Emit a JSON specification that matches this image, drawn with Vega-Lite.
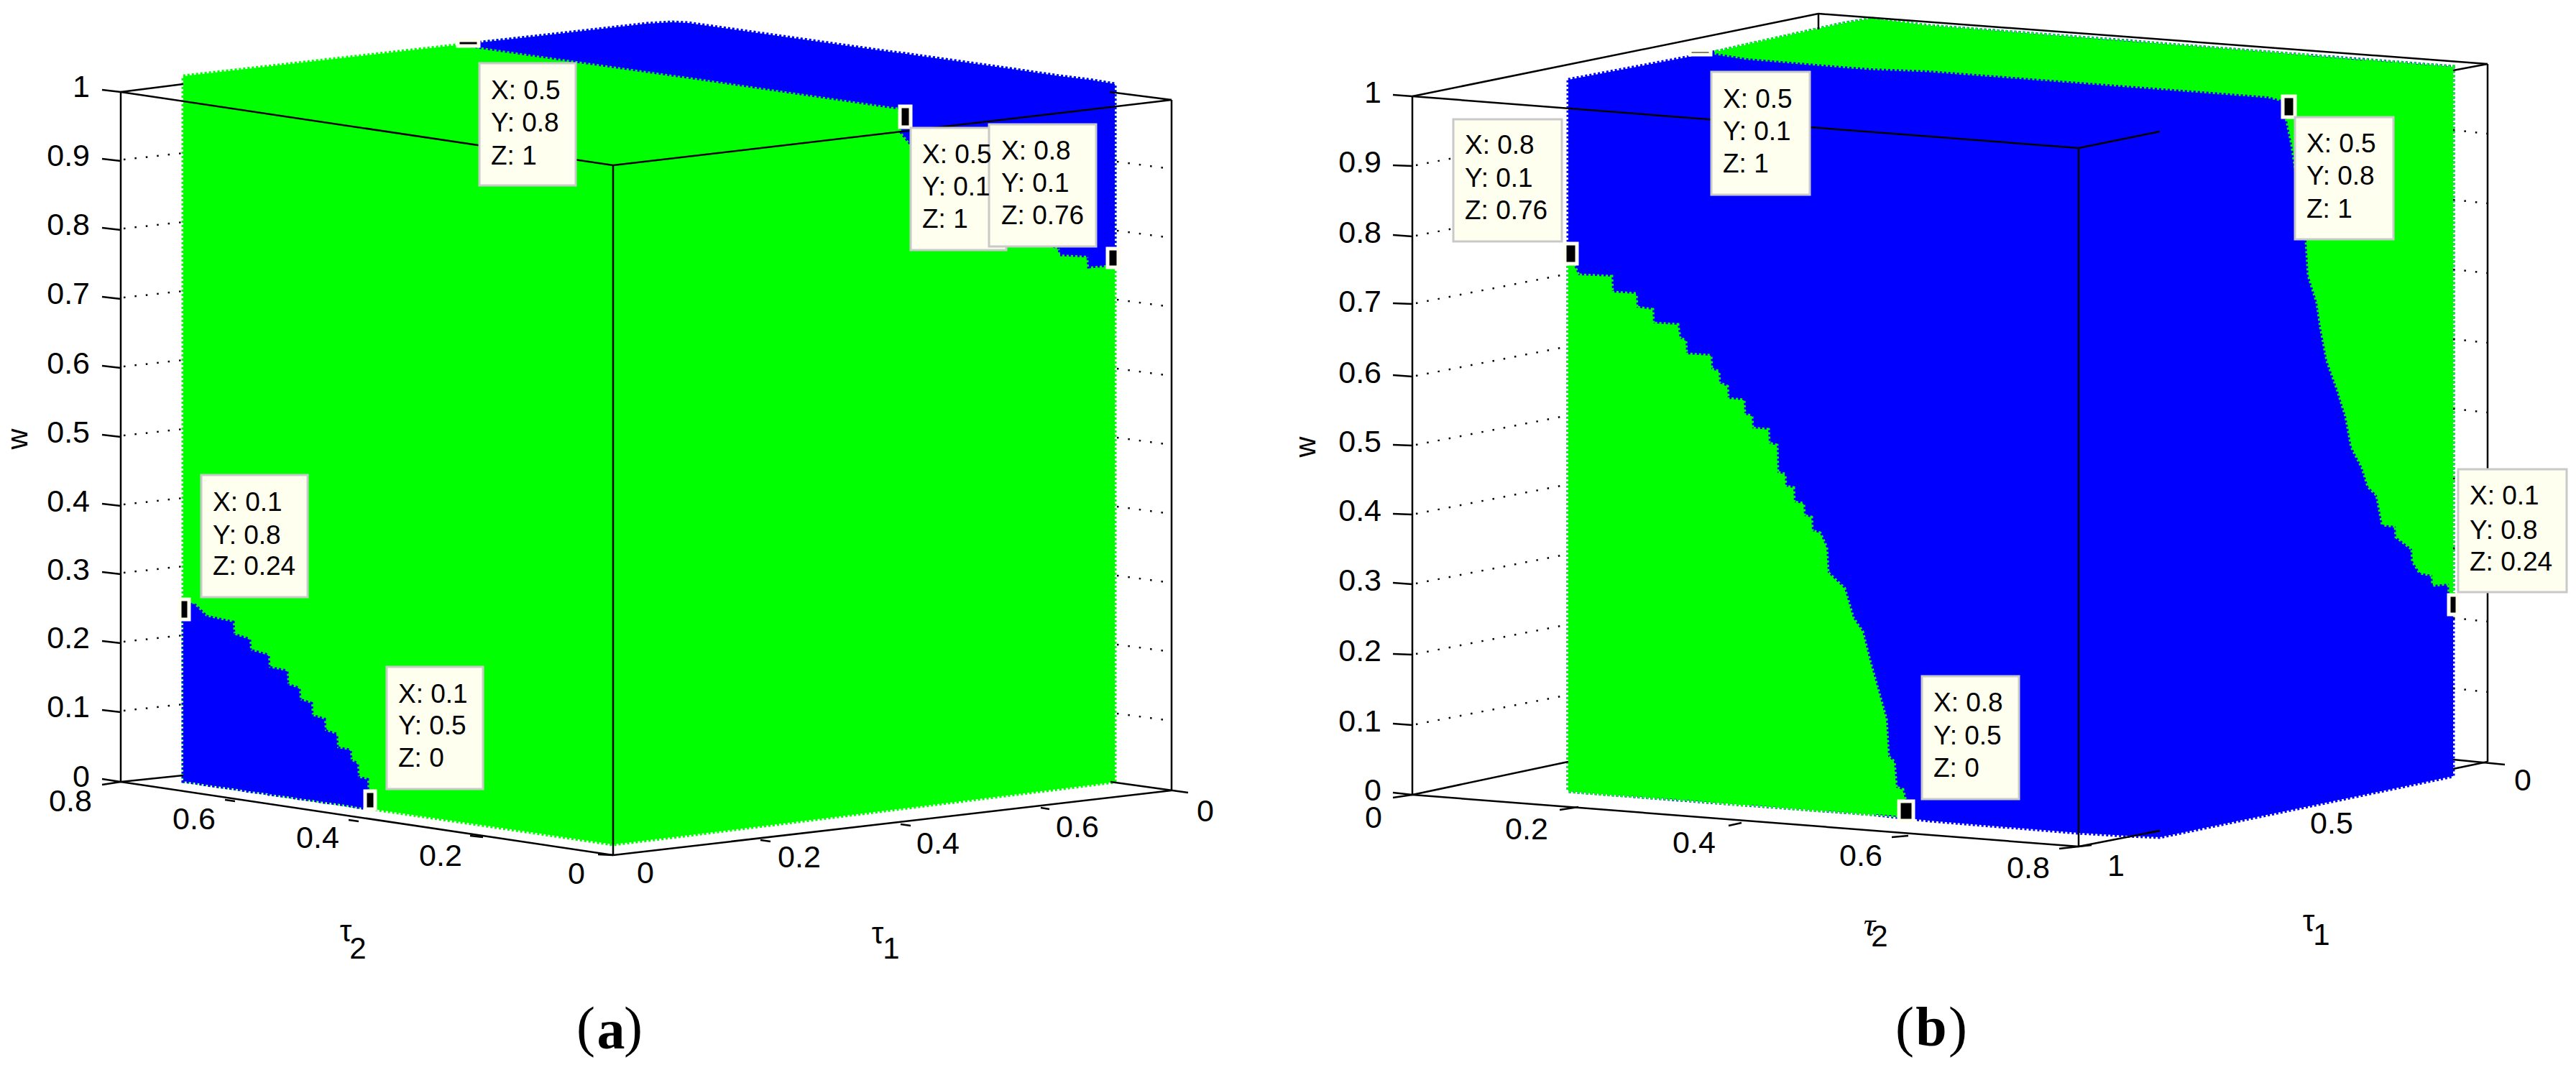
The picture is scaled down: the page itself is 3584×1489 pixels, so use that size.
{
  "$schema": "https://vega.github.io/schema/vega-lite/v6.json",
  "description": "Two views of a cube of tau1, tau2, w points split into a green and a blue region, with data tips",
  "autosize": {"type": "fit", "contains": "padding"},
  "width": 3584,
  "height": 1489,
  "padding": 0,
  "background": "white",
  "config": {"view": {"stroke": null}},
  "datasets": {
    "regions": [
      {"shape":"a-green","part":"base","cls":"green","sx":255,"sy":106,"sy2":1087},
      {"shape":"a-green","part":"base","cls":"green","sx":643,"sy":62,"sy2":1144},
      {"shape":"a-green","part":"base","cls":"green","sx":853,"sy":40,"sy2":1175},
      {"shape":"a-green","part":"base","cls":"green","sx":935,"sy":31,"sy2":1165},
      {"shape":"a-green","part":"base","cls":"green","sx":1551,"sy":117,"sy2":1088},
      {"shape":"b-blue","part":"base","cls":"blue","sx":2182,"sy":111,"sy2":1101},
      {"shape":"b-blue","part":"base","cls":"blue","sx":2388,"sy":72,"sy2":1117},
      {"shape":"b-blue","part":"base","cls":"blue","sx":2563,"sy":33,"sy2":1130},
      {"shape":"b-blue","part":"base","cls":"blue","sx":2604,"sy":26,"sy2":1133},
      {"shape":"b-blue","part":"base","cls":"blue","sx":2684,"sy":36,"sy2":1142},
      {"shape":"b-blue","part":"base","cls":"blue","sx":2892,"sy":52,"sy2":1159},
      {"shape":"b-blue","part":"base","cls":"blue","sx":2960,"sy":57,"sy2":1163},
      {"shape":"b-blue","part":"base","cls":"blue","sx":3005,"sy":61,"sy2":1165},
      {"shape":"b-blue","part":"base","cls":"blue","sx":3413,"sy":93,"sy2":1080},

      {"shape":"a-blue-top","part":"over","cls":"blue","sx":643,"sy":62,"sy2":62},
      {"shape":"a-blue-top","part":"over","cls":"blue","sx":760,"sy":49,"sy2":79},
      {"shape":"a-blue-top","part":"over","cls":"blue","sx":900,"sy":33,"sy2":99},
      {"shape":"a-blue-top","part":"over","cls":"blue","sx":935,"sy":31,"sy2":104},
      {"shape":"a-blue-top","part":"over","cls":"blue","sx":957,"sy":32,"sy2":107},
      {"shape":"a-blue-top","part":"over","cls":"blue","sx":1236,"sy":72,"sy2":148},
      {"shape":"a-blue-top","part":"over","cls":"blue","sx":1252,"sy":74,"sy2":150},
      {"shape":"a-blue-top","part":"over","cls":"blue","sx":1254,"sy":74,"sy2":184},
      {"shape":"a-blue-top","part":"over","cls":"blue","sx":1267,"sy":76,"sy2":200},
      {"shape":"a-blue-top","part":"over","cls":"blue","sx":1400,"sy":95,"sy2":320},
      {"shape":"a-blue-top","part":"over","cls":"blue","sx":1474,"sy":106,"sy2":345},
      {"shape":"a-blue-top","part":"over","cls":"blue","sx":1475,"sy":106,"sy2":354},
      {"shape":"a-blue-top","part":"over","cls":"blue","sx":1514,"sy":111,"sy2":356},
      {"shape":"a-blue-top","part":"over","cls":"blue","sx":1515,"sy":111,"sy2":371},
      {"shape":"a-blue-top","part":"over","cls":"blue","sx":1551,"sy":117,"sy2":368},

      {"shape":"a-blue-low","part":"over","cls":"blue","sx":255,"sy":848,"sy2":1087},
      {"shape":"a-blue-low","part":"over","cls":"blue","sx":270,"sy":840,"sy2":1089},
      {"shape":"a-blue-low","part":"over","cls":"blue","sx":271,"sy":842,"sy2":1089},
      {"shape":"a-blue-low","part":"over","cls":"blue","sx":287,"sy":858,"sy2":1092},
      {"shape":"a-blue-low","part":"over","cls":"blue","sx":324,"sy":866,"sy2":1097},
      {"shape":"a-blue-low","part":"over","cls":"blue","sx":325,"sy":883,"sy2":1097},
      {"shape":"a-blue-low","part":"over","cls":"blue","sx":347,"sy":890,"sy2":1101},
      {"shape":"a-blue-low","part":"over","cls":"blue","sx":348,"sy":905,"sy2":1101},
      {"shape":"a-blue-low","part":"over","cls":"blue","sx":373,"sy":912,"sy2":1104},
      {"shape":"a-blue-low","part":"over","cls":"blue","sx":374,"sy":929,"sy2":1105},
      {"shape":"a-blue-low","part":"over","cls":"blue","sx":399,"sy":934,"sy2":1108},
      {"shape":"a-blue-low","part":"over","cls":"blue","sx":400,"sy":953,"sy2":1108},
      {"shape":"a-blue-low","part":"over","cls":"blue","sx":416,"sy":958,"sy2":1111},
      {"shape":"a-blue-low","part":"over","cls":"blue","sx":417,"sy":974,"sy2":1111},
      {"shape":"a-blue-low","part":"over","cls":"blue","sx":433,"sy":979,"sy2":1113},
      {"shape":"a-blue-low","part":"over","cls":"blue","sx":434,"sy":996,"sy2":1113},
      {"shape":"a-blue-low","part":"over","cls":"blue","sx":451,"sy":1001,"sy2":1116},
      {"shape":"a-blue-low","part":"over","cls":"blue","sx":452,"sy":1017,"sy2":1116},
      {"shape":"a-blue-low","part":"over","cls":"blue","sx":468,"sy":1022,"sy2":1118},
      {"shape":"a-blue-low","part":"over","cls":"blue","sx":469,"sy":1041,"sy2":1118},
      {"shape":"a-blue-low","part":"over","cls":"blue","sx":487,"sy":1044,"sy2":1121},
      {"shape":"a-blue-low","part":"over","cls":"blue","sx":488,"sy":1058,"sy2":1121},
      {"shape":"a-blue-low","part":"over","cls":"blue","sx":497,"sy":1063,"sy2":1123},
      {"shape":"a-blue-low","part":"over","cls":"blue","sx":498,"sy":1082,"sy2":1123},
      {"shape":"a-blue-low","part":"over","cls":"blue","sx":511,"sy":1085,"sy2":1125},
      {"shape":"a-blue-low","part":"over","cls":"blue","sx":512,"sy":1124,"sy2":1125},

      {"shape":"b-green-top","part":"over","cls":"green","sx":2388,"sy":72,"sy2":74},
      {"shape":"b-green-top","part":"over","cls":"green","sx":2431,"sy":62,"sy2":81},
      {"shape":"b-green-top","part":"over","cls":"green","sx":2563,"sy":33,"sy2":92},
      {"shape":"b-green-top","part":"over","cls":"green","sx":2604,"sy":26,"sy2":95},
      {"shape":"b-green-top","part":"over","cls":"green","sx":2684,"sy":36,"sy2":98},
      {"shape":"b-green-top","part":"over","cls":"green","sx":3155,"sy":73,"sy2":134},
      {"shape":"b-green-top","part":"over","cls":"green","sx":3178,"sy":75,"sy2":140},
      {"shape":"b-green-top","part":"over","cls":"green","sx":3181,"sy":75,"sy2":163},
      {"shape":"b-green-top","part":"over","cls":"green","sx":3189,"sy":76,"sy2":201},
      {"shape":"b-green-top","part":"over","cls":"green","sx":3209,"sy":77,"sy2":335},
      {"shape":"b-green-top","part":"over","cls":"green","sx":3212,"sy":78,"sy2":383},
      {"shape":"b-green-top","part":"over","cls":"green","sx":3224,"sy":79,"sy2":421},
      {"shape":"b-green-top","part":"over","cls":"green","sx":3229,"sy":79,"sy2":455},
      {"shape":"b-green-top","part":"over","cls":"green","sx":3238,"sy":80,"sy2":502},
      {"shape":"b-green-top","part":"over","cls":"green","sx":3252,"sy":81,"sy2":541},
      {"shape":"b-green-top","part":"over","cls":"green","sx":3264,"sy":82,"sy2":579},
      {"shape":"b-green-top","part":"over","cls":"green","sx":3272,"sy":83,"sy2":622},
      {"shape":"b-green-top","part":"over","cls":"green","sx":3287,"sy":84,"sy2":651},
      {"shape":"b-green-top","part":"over","cls":"green","sx":3295,"sy":84,"sy2":677},
      {"shape":"b-green-top","part":"over","cls":"green","sx":3307,"sy":85,"sy2":689},
      {"shape":"b-green-top","part":"over","cls":"green","sx":3315,"sy":86,"sy2":730},
      {"shape":"b-green-top","part":"over","cls":"green","sx":3333,"sy":87,"sy2":732},
      {"shape":"b-green-top","part":"over","cls":"green","sx":3334,"sy":87,"sy2":747},
      {"shape":"b-green-top","part":"over","cls":"green","sx":3356,"sy":89,"sy2":764},
      {"shape":"b-green-top","part":"over","cls":"green","sx":3357,"sy":89,"sy2":781},
      {"shape":"b-green-top","part":"over","cls":"green","sx":3367,"sy":90,"sy2":797},
      {"shape":"b-green-top","part":"over","cls":"green","sx":3384,"sy":91,"sy2":800},
      {"shape":"b-green-top","part":"over","cls":"green","sx":3385,"sy":91,"sy2":814},
      {"shape":"b-green-top","part":"over","cls":"green","sx":3407,"sy":93,"sy2":812},
      {"shape":"b-green-top","part":"over","cls":"green","sx":3408,"sy":93,"sy2":826},
      {"shape":"b-green-top","part":"over","cls":"green","sx":3413,"sy":93,"sy2":835},

      {"shape":"b-green-low","part":"over","cls":"green","sx":2182,"sy":352,"sy2":1101},
      {"shape":"b-green-low","part":"over","cls":"green","sx":2196,"sy":383,"sy2":1102},
      {"shape":"b-green-low","part":"over","cls":"green","sx":2242,"sy":385,"sy2":1106},
      {"shape":"b-green-low","part":"over","cls":"green","sx":2243,"sy":407,"sy2":1106},
      {"shape":"b-green-low","part":"over","cls":"green","sx":2276,"sy":409,"sy2":1108},
      {"shape":"b-green-low","part":"over","cls":"green","sx":2277,"sy":428,"sy2":1108},
      {"shape":"b-green-low","part":"over","cls":"green","sx":2299,"sy":431,"sy2":1110},
      {"shape":"b-green-low","part":"over","cls":"green","sx":2300,"sy":450,"sy2":1110},
      {"shape":"b-green-low","part":"over","cls":"green","sx":2334,"sy":452,"sy2":1112},
      {"shape":"b-green-low","part":"over","cls":"green","sx":2337,"sy":471,"sy2":1113},
      {"shape":"b-green-low","part":"over","cls":"green","sx":2345,"sy":474,"sy2":1113},
      {"shape":"b-green-low","part":"over","cls":"green","sx":2346,"sy":493,"sy2":1113},
      {"shape":"b-green-low","part":"over","cls":"green","sx":2380,"sy":495,"sy2":1116},
      {"shape":"b-green-low","part":"over","cls":"green","sx":2381,"sy":514,"sy2":1116},
      {"shape":"b-green-low","part":"over","cls":"green","sx":2391,"sy":517,"sy2":1117},
      {"shape":"b-green-low","part":"over","cls":"green","sx":2392,"sy":533,"sy2":1117},
      {"shape":"b-green-low","part":"over","cls":"green","sx":2403,"sy":538,"sy2":1118},
      {"shape":"b-green-low","part":"over","cls":"green","sx":2404,"sy":555,"sy2":1118},
      {"shape":"b-green-low","part":"over","cls":"green","sx":2426,"sy":557,"sy2":1120},
      {"shape":"b-green-low","part":"over","cls":"green","sx":2427,"sy":577,"sy2":1120},
      {"shape":"b-green-low","part":"over","cls":"green","sx":2437,"sy":579,"sy2":1120},
      {"shape":"b-green-low","part":"over","cls":"green","sx":2438,"sy":596,"sy2":1120},
      {"shape":"b-green-low","part":"over","cls":"green","sx":2460,"sy":598,"sy2":1122},
      {"shape":"b-green-low","part":"over","cls":"green","sx":2461,"sy":617,"sy2":1122},
      {"shape":"b-green-low","part":"over","cls":"green","sx":2472,"sy":620,"sy2":1123},
      {"shape":"b-green-low","part":"over","cls":"green","sx":2473,"sy":658,"sy2":1123},
      {"shape":"b-green-low","part":"over","cls":"green","sx":2483,"sy":660,"sy2":1124},
      {"shape":"b-green-low","part":"over","cls":"green","sx":2484,"sy":677,"sy2":1124},
      {"shape":"b-green-low","part":"over","cls":"green","sx":2495,"sy":679,"sy2":1125},
      {"shape":"b-green-low","part":"over","cls":"green","sx":2496,"sy":699,"sy2":1125},
      {"shape":"b-green-low","part":"over","cls":"green","sx":2509,"sy":701,"sy2":1126},
      {"shape":"b-green-low","part":"over","cls":"green","sx":2510,"sy":718,"sy2":1126},
      {"shape":"b-green-low","part":"over","cls":"green","sx":2520,"sy":720,"sy2":1127},
      {"shape":"b-green-low","part":"over","cls":"green","sx":2521,"sy":739,"sy2":1127},
      {"shape":"b-green-low","part":"over","cls":"green","sx":2532,"sy":742,"sy2":1128},
      {"shape":"b-green-low","part":"over","cls":"green","sx":2541,"sy":762,"sy2":1128},
      {"shape":"b-green-low","part":"over","cls":"green","sx":2543,"sy":797,"sy2":1128},
      {"shape":"b-green-low","part":"over","cls":"green","sx":2566,"sy":819,"sy2":1130},
      {"shape":"b-green-low","part":"over","cls":"green","sx":2578,"sy":860,"sy2":1131},
      {"shape":"b-green-low","part":"over","cls":"green","sx":2591,"sy":879,"sy2":1132},
      {"shape":"b-green-low","part":"over","cls":"green","sx":2601,"sy":919,"sy2":1133},
      {"shape":"b-green-low","part":"over","cls":"green","sx":2612,"sy":958,"sy2":1133},
      {"shape":"b-green-low","part":"over","cls":"green","sx":2624,"sy":1001,"sy2":1134},
      {"shape":"b-green-low","part":"over","cls":"green","sx":2627,"sy":1053,"sy2":1134},
      {"shape":"b-green-low","part":"over","cls":"green","sx":2635,"sy":1060,"sy2":1135},
      {"shape":"b-green-low","part":"over","cls":"green","sx":2638,"sy":1096,"sy2":1135},
      {"shape":"b-green-low","part":"over","cls":"green","sx":2647,"sy":1099,"sy2":1136},
      {"shape":"b-green-low","part":"over","cls":"green","sx":2655,"sy":1130,"sy2":1136}
    ],
    "lines": [
      {"kind":"solid","sx":168,"sy":128,"sx2":168,"sy2":1088},
      {"kind":"solid","sx":853,"sy":230,"sx2":853,"sy2":1190},
      {"kind":"solid","sx":1630,"sy":139,"sx2":1630,"sy2":1100},
      {"kind":"solid","sx":168,"sy":128,"sx2":853,"sy2":230},
      {"kind":"solid","sx":853,"sy":230,"sx2":1630,"sy2":139},
      {"kind":"solid","sx":168,"sy":128,"sx2":255,"sy2":117},
      {"kind":"solid","sx":1544,"sy":128,"sx2":1630,"sy2":139},
      {"kind":"solid","sx":168,"sy":1088,"sx2":853,"sy2":1190},
      {"kind":"solid","sx":853,"sy":1190,"sx2":1630,"sy2":1100},
      {"kind":"solid","sx":168,"sy":1088,"sx2":255,"sy2":1079},
      {"kind":"solid","sx":1545,"sy":1088,"sx2":1653,"sy2":1103},
      {"kind":"solid","sx":142,"sy":1092,"sx2":168,"sy2":1088},
      {"kind":"solid","sx":142,"sy":125,"sx2":168,"sy2":128},
      {"kind":"solid","sx":142,"sy":221,"sx2":168,"sy2":224},
      {"kind":"solid","sx":142,"sy":317,"sx2":168,"sy2":320},
      {"kind":"solid","sx":142,"sy":413,"sx2":168,"sy2":416},
      {"kind":"solid","sx":142,"sy":509,"sx2":168,"sy2":512},
      {"kind":"solid","sx":142,"sy":605,"sx2":168,"sy2":608},
      {"kind":"solid","sx":142,"sy":701,"sx2":168,"sy2":704},
      {"kind":"solid","sx":142,"sy":796,"sx2":168,"sy2":799},
      {"kind":"solid","sx":142,"sy":892,"sx2":168,"sy2":895},
      {"kind":"solid","sx":142,"sy":988,"sx2":168,"sy2":991},
      {"kind":"solid","sx":142,"sy":1084,"sx2":168,"sy2":1088},
      {"kind":"solid","sx":313,"sy":1113,"sx2":327,"sy2":1115},
      {"kind":"solid","sx":485,"sy":1141,"sx2":499,"sy2":1143},
      {"kind":"solid","sx":654,"sy":1163,"sx2":672,"sy2":1165},
      {"kind":"solid","sx":832,"sy":1189,"sx2":853,"sy2":1190},
      {"kind":"solid","sx":1058,"sy":1169,"sx2":1072,"sy2":1171},
      {"kind":"solid","sx":1253,"sy":1147,"sx2":1267,"sy2":1149},
      {"kind":"solid","sx":1448,"sy":1124,"sx2":1460,"sy2":1126},

      {"kind":"solid","sx":1965,"sy":134,"sx2":1965,"sy2":1106},
      {"kind":"solid","sx":2892,"sy":206,"sx2":2892,"sy2":1178},
      {"kind":"solid","sx":3461,"sy":89,"sx2":3461,"sy2":1060},
      {"kind":"solid","sx":2530,"sy":19,"sx2":2530,"sy2":41},
      {"kind":"solid","sx":1965,"sy":134,"sx2":2530,"sy2":19},
      {"kind":"solid","sx":2530,"sy":19,"sx2":3461,"sy2":89},
      {"kind":"solid","sx":1965,"sy":134,"sx2":2892,"sy2":206},
      {"kind":"solid","sx":2892,"sy":206,"sx2":3005,"sy2":183},
      {"kind":"solid","sx":3413,"sy":98,"sx2":3461,"sy2":89},
      {"kind":"solid","sx":1965,"sy":1106,"sx2":2892,"sy2":1178},
      {"kind":"solid","sx":2892,"sy":1178,"sx2":3005,"sy2":1156},
      {"kind":"solid","sx":3413,"sy":1070,"sx2":3461,"sy2":1060},
      {"kind":"solid","sx":3413,"sy":1057,"sx2":3485,"sy2":1064},
      {"kind":"solid","sx":1965,"sy":1106,"sx2":2182,"sy2":1060},
      {"kind":"solid","sx":1938,"sy":1110,"sx2":1965,"sy2":1106},
      {"kind":"solid","sx":1938,"sy":132,"sx2":1965,"sy2":134},
      {"kind":"solid","sx":1938,"sy":230,"sx2":1965,"sy2":231},
      {"kind":"solid","sx":1938,"sy":327,"sx2":1965,"sy2":329},
      {"kind":"solid","sx":1938,"sy":422,"sx2":1965,"sy2":423},
      {"kind":"solid","sx":1938,"sy":522,"sx2":1965,"sy2":524},
      {"kind":"solid","sx":1938,"sy":619,"sx2":1965,"sy2":620},
      {"kind":"solid","sx":1938,"sy":715,"sx2":1965,"sy2":716},
      {"kind":"solid","sx":1938,"sy":811,"sx2":1965,"sy2":813},
      {"kind":"solid","sx":1938,"sy":910,"sx2":1965,"sy2":911},
      {"kind":"solid","sx":1938,"sy":1007,"sx2":1965,"sy2":1009},
      {"kind":"solid","sx":1938,"sy":1103,"sx2":1965,"sy2":1106},
      {"kind":"solid","sx":2170,"sy":1127,"sx2":2196,"sy2":1123},
      {"kind":"solid","sx":2405,"sy":1149,"sx2":2423,"sy2":1145},
      {"kind":"solid","sx":2632,"sy":1165,"sx2":2655,"sy2":1163},
      {"kind":"solid","sx":2865,"sy":1181,"sx2":2910,"sy2":1176},
      {"kind":"solid","sx":2988,"sy":1159,"sx2":3005,"sy2":1156},

      {"kind":"dotted","sx":172,"sy":222,"sx2":255,"sy2":213},
      {"kind":"dotted","sx":172,"sy":318,"sx2":255,"sy2":309},
      {"kind":"dotted","sx":172,"sy":414,"sx2":255,"sy2":405},
      {"kind":"dotted","sx":172,"sy":510,"sx2":255,"sy2":501},
      {"kind":"dotted","sx":172,"sy":606,"sx2":255,"sy2":597},
      {"kind":"dotted","sx":172,"sy":702,"sx2":255,"sy2":693},
      {"kind":"dotted","sx":172,"sy":797,"sx2":255,"sy2":788},
      {"kind":"dotted","sx":172,"sy":893,"sx2":255,"sy2":884},
      {"kind":"dotted","sx":172,"sy":989,"sx2":255,"sy2":980},
      {"kind":"dotted","sx":1554,"sy":225,"sx2":1630,"sy2":235},
      {"kind":"dotted","sx":1554,"sy":321,"sx2":1630,"sy2":331},
      {"kind":"dotted","sx":1554,"sy":417,"sx2":1630,"sy2":427},
      {"kind":"dotted","sx":1554,"sy":513,"sx2":1630,"sy2":523},
      {"kind":"dotted","sx":1554,"sy":609,"sx2":1630,"sy2":619},
      {"kind":"dotted","sx":1554,"sy":705,"sx2":1630,"sy2":715},
      {"kind":"dotted","sx":1554,"sy":801,"sx2":1630,"sy2":811},
      {"kind":"dotted","sx":1554,"sy":897,"sx2":1630,"sy2":907},
      {"kind":"dotted","sx":1554,"sy":993,"sx2":1630,"sy2":1003},
      {"kind":"dotted","sx":1970,"sy":230,"sx2":2182,"sy2":189},
      {"kind":"dotted","sx":1970,"sy":328,"sx2":2182,"sy2":287},
      {"kind":"dotted","sx":1970,"sy":422,"sx2":2182,"sy2":381},
      {"kind":"dotted","sx":1970,"sy":523,"sx2":2182,"sy2":482},
      {"kind":"dotted","sx":1970,"sy":619,"sx2":2182,"sy2":578},
      {"kind":"dotted","sx":1970,"sy":715,"sx2":2182,"sy2":674},
      {"kind":"dotted","sx":1970,"sy":812,"sx2":2182,"sy2":771},
      {"kind":"dotted","sx":1970,"sy":910,"sx2":2182,"sy2":869},
      {"kind":"dotted","sx":1970,"sy":1008,"sx2":2182,"sy2":967},
      {"kind":"dotted","sx":3413,"sy":181,"sx2":3461,"sy2":186},
      {"kind":"dotted","sx":3413,"sy":278,"sx2":3461,"sy2":283},
      {"kind":"dotted","sx":3413,"sy":375,"sx2":3461,"sy2":380},
      {"kind":"dotted","sx":3413,"sy":472,"sx2":3461,"sy2":477},
      {"kind":"dotted","sx":3413,"sy":569,"sx2":3461,"sy2":574},
      {"kind":"dotted","sx":3413,"sy":666,"sx2":3461,"sy2":671},
      {"kind":"dotted","sx":3413,"sy":763,"sx2":3461,"sy2":768},
      {"kind":"dotted","sx":3413,"sy":860,"sx2":3461,"sy2":865},
      {"kind":"dotted","sx":3413,"sy":958,"sx2":3461,"sy2":963}
    ],
    "markers": [
      {"sx":637,"sx2":666,"sy":56,"sy2":64},
      {"sx":1252,"sx2":1267,"sy":148,"sy2":177},
      {"sx":1541,"sx2":1556,"sy":346,"sy2":372},
      {"sx":250,"sx2":263,"sy":834,"sy2":862},
      {"sx":508,"sx2":522,"sy":1101,"sy2":1126},
      {"sx":2177,"sx2":2194,"sy":339,"sy2":367},
      {"sx":2351,"sx2":2380,"sy":70,"sy2":76},
      {"sx":3176,"sx2":3193,"sy":134,"sy2":163},
      {"sx":3407,"sx2":3419,"sy":828,"sy2":855},
      {"sx":2642,"sx2":2662,"sy":1115,"sy2":1142}
    ],
    "tips": [
      {"sx":667,"sx2":801,"sy":88,"sy2":258},
      {"sx":1267,"sx2":1400,"sy":178,"sy2":348},
      {"sx":1376,"sx2":1525,"sy":173,"sy2":343},
      {"sx":280,"sx2":428,"sy":661,"sy2":831},
      {"sx":538,"sx2":672,"sy":928,"sy2":1098},
      {"sx":2022,"sx2":2173,"sy":166,"sy2":336},
      {"sx":2381,"sx2":2518,"sy":100,"sy2":271},
      {"sx":3193,"sx2":3330,"sy":163,"sy2":333},
      {"sx":3420,"sx2":3571,"sy":653,"sy2":824},
      {"sx":2674,"sx2":2809,"sy":941,"sy2":1112}
    ],
    "labels": [
      {"group":"tip","text":"X: 0.5","sx":683,"sy":127},
      {"group":"tip","text":"Y: 0.8","sx":683,"sy":172},
      {"group":"tip","text":"Z: 1","sx":683,"sy":218},
      {"group":"tip","text":"X: 0.5","sx":1283,"sy":216},
      {"group":"tip","text":"Y: 0.1","sx":1283,"sy":261},
      {"group":"tip","text":"Z: 1","sx":1283,"sy":306},
      {"group":"tip","text":"X: 0.8","sx":1393,"sy":211},
      {"group":"tip","text":"Y: 0.1","sx":1393,"sy":256},
      {"group":"tip","text":"Z: 0.76","sx":1393,"sy":301},
      {"group":"tip","text":"X: 0.1","sx":296,"sy":700},
      {"group":"tip","text":"Y: 0.8","sx":296,"sy":746},
      {"group":"tip","text":"Z: 0.24","sx":296,"sy":789},
      {"group":"tip","text":"X: 0.1","sx":554,"sy":967},
      {"group":"tip","text":"Y: 0.5","sx":554,"sy":1011},
      {"group":"tip","text":"Z: 0","sx":554,"sy":1056},
      {"group":"tip","text":"X: 0.8","sx":2038,"sy":203},
      {"group":"tip","text":"Y: 0.1","sx":2038,"sy":249},
      {"group":"tip","text":"Z: 0.76","sx":2038,"sy":294},
      {"group":"tip","text":"X: 0.5","sx":2397,"sy":139},
      {"group":"tip","text":"Y: 0.1","sx":2397,"sy":184},
      {"group":"tip","text":"Z: 1","sx":2397,"sy":229},
      {"group":"tip","text":"X: 0.5","sx":3209,"sy":201},
      {"group":"tip","text":"Y: 0.8","sx":3209,"sy":246},
      {"group":"tip","text":"Z: 1","sx":3209,"sy":292},
      {"group":"tip","text":"X: 0.1","sx":3436,"sy":691},
      {"group":"tip","text":"Y: 0.8","sx":3436,"sy":739},
      {"group":"tip","text":"Z: 0.24","sx":3436,"sy":783},
      {"group":"tip","text":"X: 0.8","sx":2690,"sy":979},
      {"group":"tip","text":"Y: 0.5","sx":2690,"sy":1025},
      {"group":"tip","text":"Z: 0","sx":2690,"sy":1070},

      {"group":"wtick","text":"1","sx":125,"sy":122},
      {"group":"wtick","text":"0.9","sx":125,"sy":218},
      {"group":"wtick","text":"0.8","sx":125,"sy":314},
      {"group":"wtick","text":"0.7","sx":125,"sy":410},
      {"group":"wtick","text":"0.6","sx":125,"sy":507},
      {"group":"wtick","text":"0.5","sx":125,"sy":603},
      {"group":"wtick","text":"0.4","sx":125,"sy":699},
      {"group":"wtick","text":"0.3","sx":125,"sy":794},
      {"group":"wtick","text":"0.2","sx":125,"sy":889},
      {"group":"wtick","text":"0.1","sx":125,"sy":985},
      {"group":"wtick","text":"0","sx":125,"sy":1082},
      {"group":"wtick","text":"1","sx":1922,"sy":130},
      {"group":"wtick","text":"0.9","sx":1922,"sy":227},
      {"group":"wtick","text":"0.8","sx":1922,"sy":325},
      {"group":"wtick","text":"0.7","sx":1922,"sy":421},
      {"group":"wtick","text":"0.6","sx":1922,"sy":520},
      {"group":"wtick","text":"0.5","sx":1922,"sy":616},
      {"group":"wtick","text":"0.4","sx":1922,"sy":712},
      {"group":"wtick","text":"0.3","sx":1922,"sy":809},
      {"group":"wtick","text":"0.2","sx":1922,"sy":907},
      {"group":"wtick","text":"0.1","sx":1922,"sy":1005},
      {"group":"wtick","text":"0","sx":1922,"sy":1101},

      {"group":"tick","text":"0.8","sx":98,"sy":1116},
      {"group":"tick","text":"0.6","sx":270,"sy":1141},
      {"group":"tick","text":"0.4","sx":442,"sy":1167},
      {"group":"tick","text":"0.2","sx":613,"sy":1192},
      {"group":"tick","text":"0","sx":802,"sy":1217},
      {"group":"tick","text":"0","sx":898,"sy":1216},
      {"group":"tick","text":"0.2","sx":1112,"sy":1194},
      {"group":"tick","text":"0.4","sx":1305,"sy":1175},
      {"group":"tick","text":"0.6","sx":1499,"sy":1152},
      {"group":"tick","text":"0","sx":1677,"sy":1130},
      {"group":"tick","text":"0","sx":1911,"sy":1139},
      {"group":"tick","text":"0.2","sx":2124,"sy":1155},
      {"group":"tick","text":"0.4","sx":2357,"sy":1174},
      {"group":"tick","text":"0.6","sx":2589,"sy":1192},
      {"group":"tick","text":"0.8","sx":2822,"sy":1209},
      {"group":"tick","text":"1","sx":2944,"sy":1206},
      {"group":"tick","text":"0.5","sx":3244,"sy":1147},
      {"group":"tick","text":"0","sx":3510,"sy":1087},

      {"group":"name","text":"τ","sx":481,"sy":1297},
      {"group":"name","text":"2","sx":498,"sy":1321},
      {"group":"name","text":"τ","sx":1221,"sy":1300},
      {"group":"name","text":"1","sx":1240,"sy":1321},
      {"group":"italic","text":"τ","sx":2601,"sy":1288},
      {"group":"name","text":"2","sx":2615,"sy":1304},
      {"group":"name","text":"τ","sx":3212,"sy":1283},
      {"group":"name","text":"1","sx":3230,"sy":1302},

      {"group":"rotated","text":"w","sx":26,"sy":611},
      {"group":"rotated","text":"w","sx":1818,"sy":622},

      {"group":"paren","text":"(","sx":815,"sy":1432},
      {"group":"letter","text":"a","sx":850,"sy":1436},
      {"group":"paren","text":")","sx":881,"sy":1432},
      {"group":"paren","text":"(","sx":2650,"sy":1432},
      {"group":"letter","text":"b","sx":2687,"sy":1432},
      {"group":"paren","text":")","sx":2724,"sy":1432}
    ]
  },
  "encoding": {
    "x": {"field": "sx", "type": "quantitative", "scale": {"domain": [0, 3584], "nice": false, "zero": false}, "axis": null},
    "y": {"field": "sy", "type": "quantitative", "scale": {"domain": [1489, 0], "nice": false, "zero": false}, "axis": null}
  },
  "layer": [
    {
      "data": {"name": "regions"},
      "transform": [{"filter": "datum.part == 'base'"}],
      "mark": {"type": "area", "strokeWidth": 5, "strokeDash": [3, 3], "opacity": 1},
      "encoding": {
        "y2": {"field": "sy2"},
        "detail": {"field": "shape"},
        "color": {"field": "cls", "type": "nominal", "scale": {"domain": ["green", "blue"], "range": ["#00FF00", "#0000FF"]}, "legend": null},
        "stroke": {"field": "cls", "type": "nominal", "scale": {"domain": ["green", "blue"], "range": ["#00FF00", "#0000FF"]}, "legend": null}
      }
    },
    {
      "data": {"name": "regions"},
      "transform": [{"filter": "datum.part == 'over'"}],
      "mark": {"type": "area", "strokeWidth": 5, "strokeDash": [3, 3], "opacity": 1},
      "encoding": {
        "y2": {"field": "sy2"},
        "detail": {"field": "shape"},
        "color": {"field": "cls", "type": "nominal", "scale": {"domain": ["green", "blue"], "range": ["#00FF00", "#0000FF"]}, "legend": null},
        "stroke": {"field": "cls", "type": "nominal", "scale": {"domain": ["green", "blue"], "range": ["#00FF00", "#0000FF"]}, "legend": null}
      }
    },
    {
      "data": {"name": "lines"},
      "transform": [{"filter": "datum.kind == 'solid'"}],
      "mark": {"type": "rule", "color": "black", "strokeWidth": 2.5},
      "encoding": {"x2": {"field": "sx2"}, "y2": {"field": "sy2"}}
    },
    {
      "data": {"name": "lines"},
      "transform": [{"filter": "datum.kind == 'dotted'"}],
      "mark": {"type": "rule", "color": "black", "strokeWidth": 2.5, "strokeDash": [2.5, 13]},
      "encoding": {"x2": {"field": "sx2"}, "y2": {"field": "sy2"}}
    },
    {
      "data": {"name": "markers"},
      "mark": {"type": "rect", "fill": "black", "stroke": "#FFFFF0", "strokeWidth": 5},
      "encoding": {"x2": {"field": "sx2"}, "y2": {"field": "sy2"}}
    },
    {
      "data": {"name": "tips"},
      "mark": {"type": "rect", "fill": "#FFFFF0", "stroke": "#C9C9C9", "strokeWidth": 3},
      "encoding": {"x2": {"field": "sx2"}, "y2": {"field": "sy2"}}
    },
    {
      "data": {"name": "labels"},
      "transform": [{"filter": "datum.group == 'tip'"}],
      "mark": {"type": "text", "font": "Liberation Sans", "fontSize": 37, "align": "left", "baseline": "middle", "color": "black"},
      "encoding": {"text": {"field": "text"}}
    },
    {
      "data": {"name": "labels"},
      "transform": [{"filter": "datum.group == 'wtick'"}],
      "mark": {"type": "text", "font": "Liberation Sans", "fontSize": 43, "align": "right", "baseline": "middle", "color": "black"},
      "encoding": {"text": {"field": "text"}}
    },
    {
      "data": {"name": "labels"},
      "transform": [{"filter": "datum.group == 'tick'"}],
      "mark": {"type": "text", "font": "Liberation Sans", "fontSize": 43, "align": "center", "baseline": "middle", "color": "black"},
      "encoding": {"text": {"field": "text"}}
    },
    {
      "data": {"name": "labels"},
      "transform": [{"filter": "datum.group == 'name'"}],
      "mark": {"type": "text", "font": "Liberation Sans", "fontSize": 42, "align": "center", "baseline": "middle", "color": "black"},
      "encoding": {"text": {"field": "text"}}
    },
    {
      "data": {"name": "labels"},
      "transform": [{"filter": "datum.group == 'italic'"}],
      "mark": {"type": "text", "font": "Liberation Serif", "fontSize": 46, "fontStyle": "italic", "align": "center", "baseline": "middle", "color": "black"},
      "encoding": {"text": {"field": "text"}}
    },
    {
      "data": {"name": "labels"},
      "transform": [{"filter": "datum.group == 'rotated'"}],
      "mark": {"type": "text", "font": "Liberation Sans", "fontSize": 40, "align": "center", "baseline": "middle", "angle": 270, "color": "black"},
      "encoding": {"text": {"field": "text"}}
    },
    {
      "data": {"name": "labels"},
      "transform": [{"filter": "datum.group == 'paren'"}],
      "mark": {"type": "text", "font": "Liberation Serif", "fontSize": 78, "align": "center", "baseline": "middle", "color": "black"},
      "encoding": {"text": {"field": "text"}}
    },
    {
      "data": {"name": "labels"},
      "transform": [{"filter": "datum.group == 'letter'"}],
      "mark": {"type": "text", "font": "Liberation Serif", "fontSize": 78, "fontWeight": "bold", "align": "center", "baseline": "middle", "color": "black"},
      "encoding": {"text": {"field": "text"}}
    }
  ]
}
